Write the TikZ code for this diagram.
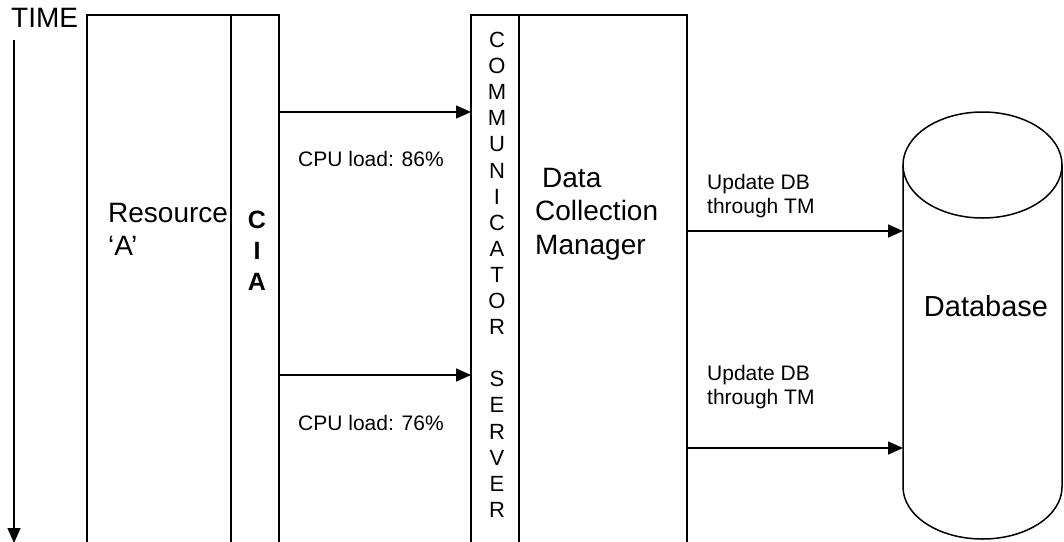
\documentclass[tikz,border=0pt]{standalone}
\usepackage{fontspec}
\setmainfont{Liberation Sans}
\usetikzlibrary{arrows.meta,calc}
\begin{document}
\begin{tikzpicture}[x=1pt,y=-1pt,
  lane/.style={draw, line width=1.5pt, rectangle, inner sep=0pt, outer sep=0pt,
               minimum height=560pt, anchor=north west},
  flow/.style={-{Triangle[length=15pt,width=13pt]}, line width=1.5pt},
  big/.style={font=\fontsize{28}{30}\selectfont, inner sep=0pt},
  small/.style={font=\fontsize{21}{24}\selectfont, inner sep=0pt},
  label/.style={inner sep=0pt, outer sep=0pt}]
\useasboundingbox (0,0) rectangle (1064,541);
\clip (0,0) rectangle (1064,541);

% time axis
\node[big, anchor=base west] (time) at (11,27) {TIME};
\coordinate (timeend) at (14,543);
\draw[flow] ($(time.south west)+(3,13)$) -- (timeend);

% resource column and its agent
\node[lane, minimum width=144pt] (res) at (87,15) {};
\node[lane, minimum width=48pt]  (cia) at (231,15) {};
\node[font=\fontsize{28}{33}\selectfont, inner sep=0pt, align=left, anchor=north west]
  (restext) at (108,203) {Resource\\‘A’};
\node[font=\bfseries\fontsize{25}{31}\selectfont, align=center, inner sep=0pt, anchor=north]
  (ciatext) at (257,211) {C\\I\\A};

% communicator server and data collection manager
\node[lane, minimum width=48pt]  (comm) at (471,15) {};
\node[lane, minimum width=168pt] (dcm)  at (519,15) {};
\node[font=\fontsize{22}{26.1}\selectfont, align=center, inner sep=0pt, anchor=north]
  (commtext) at (497,32) {C\\O\\M\\M\\U\\N\\I\\C\\A\\T\\O\\R\\\mbox{}\\S\\E\\R\\V\\E\\R};
\node[font=\fontsize{28}{33.5}\selectfont, align=left, inner sep=0pt, anchor=north west]
  (dcmtext) at (535,168) {\hspace*{7pt}Data\\Collection\\Manager};

% database cylinder
\draw[line width=1.5pt] (903,165) -- (903,487) arc[start angle=180, end angle=0, x radius=79.5, y radius=52] -- (1062,165);
\draw[line width=1.5pt] (982.5,165) ellipse [x radius=79.5, y radius=53];
\node[label, font=\fontsize{29}{32}\selectfont, minimum width=159pt, minimum height=380pt] (db) at (982.5,306) {\hspace*{7pt}Database};

% messages
\draw[flow] (cia.east |- 0,112) -- (comm.west |- 0,112);
\draw[flow] (cia.east |- 0,375) -- (comm.west |- 0,375);
\node[small, anchor=base west] (cpu1) at (298,166) {CPU load: 86\%};
\node[small, anchor=base west] (cpu2) at (298,430) {CPU load: 76\%};

\draw[flow] (dcm.east |- 0,231) -- (db.west |- 0,231);
\draw[flow] (dcm.east |- 0,448) -- (db.west |- 0,448);
\node[small, align=left, anchor=north west] (upd1) at (707,174) {Update DB\\through TM};
\node[small, align=left, anchor=north west] (upd2) at (707,365) {Update DB\\through TM};
\end{tikzpicture}
\end{document}
